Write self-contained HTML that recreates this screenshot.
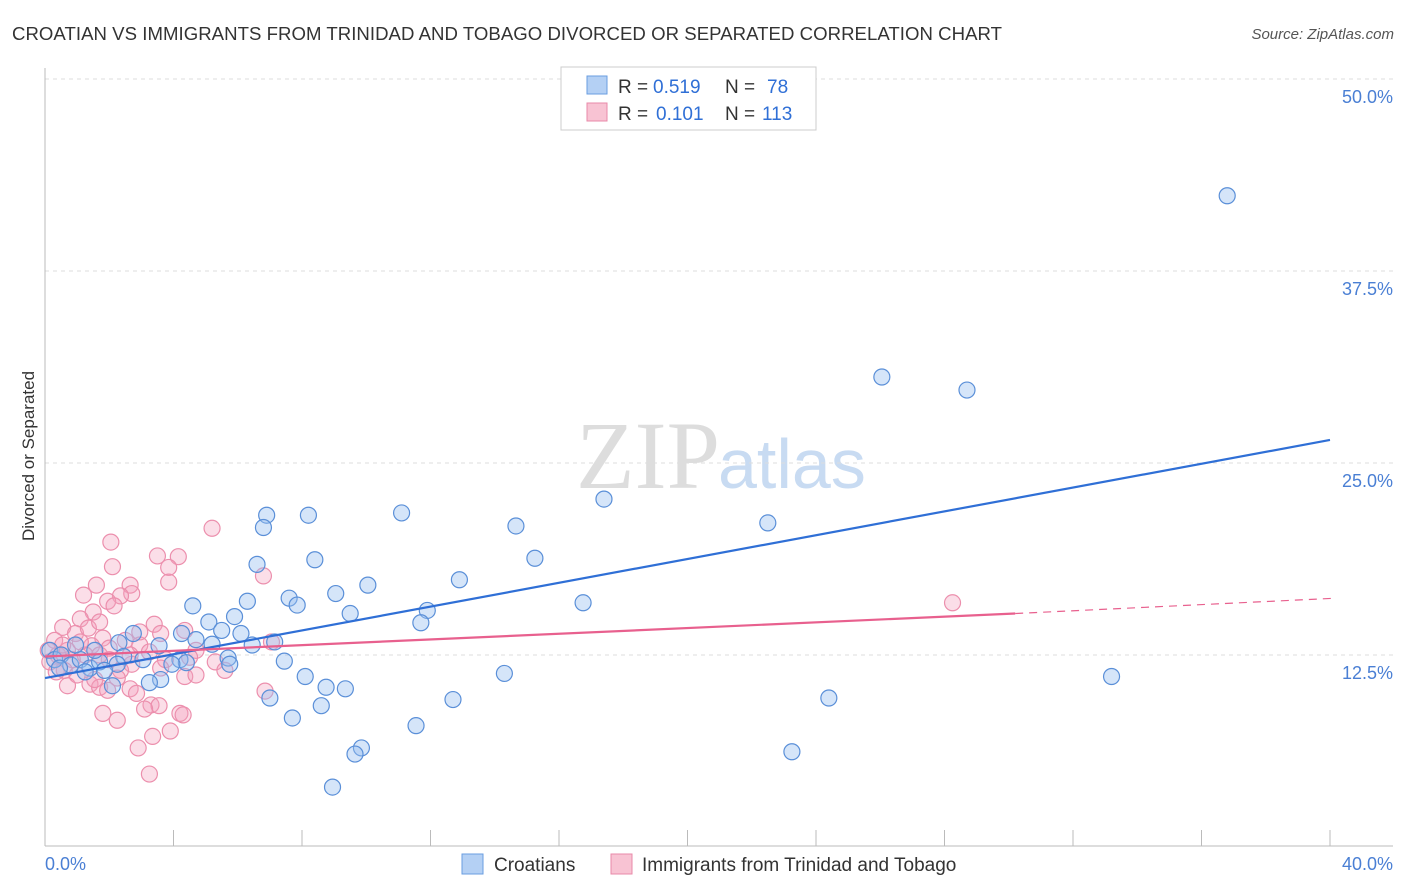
<!DOCTYPE html>
<html><head><meta charset="utf-8"><style>
body{margin:0;background:#fff;width:1406px;height:892px;overflow:hidden;font-family:"Liberation Sans",sans-serif}
svg{position:absolute;left:0;top:0}
</style></head><body>
<svg id="chart" width="1406" height="892">
<text x="12" y="40" font-size="18.6" fill="#333" textLength="990">CROATIAN VS IMMIGRANTS FROM TRINIDAD AND TOBAGO DIVORCED OR SEPARATED CORRELATION CHART</text>
<text x="1394" y="39" font-size="15" fill="#555" font-style="italic" text-anchor="end">Source: ZipAtlas.com</text>
<text x="34" y="456" font-size="17" fill="#333" text-anchor="middle" transform="rotate(-90 34 456)">Divorced or Separated</text>
<text x="720" y="488" font-size="96" fill="#ddd" text-anchor="end" font-family="Liberation Serif,serif">ZIP</text>
<text x="718" y="488" font-size="70" fill="#c8dbf2">atlas</text>
<g id="grid"></g><g id="axes"></g><g id="pts"></g><g id="lines"></g>
<g>
<rect x="561" y="67" width="255" height="63" fill="#fff" stroke="#ccc"/>
<rect x="587" y="76" width="20" height="18" fill="#b4d0f4" stroke="#6a9ee0"/>
<text x="618" y="93" font-size="19" fill="#333">R =</text>
<text x="653" y="93" font-size="19" fill="#2f6fd6">0.519</text>
<text x="725" y="93" font-size="19" fill="#333">N =</text>
<text x="767" y="93" font-size="19" fill="#2f6fd6">78</text>
<rect x="587" y="103" width="20" height="18" fill="#f8c3d3" stroke="#e88aa8"/>
<text x="618" y="120" font-size="19" fill="#333">R =</text>
<text x="656" y="120" font-size="19" fill="#2f6fd6">0.101</text>
<text x="725" y="120" font-size="19" fill="#333">N =</text>
<text x="762" y="120" font-size="19" fill="#2f6fd6">113</text>
</g>
<g>
<rect x="462" y="854" width="21" height="20" fill="#b4d0f4" stroke="#6a9ee0"/>
<text x="494" y="871" font-size="19" fill="#333">Croatians</text>
<rect x="611" y="854" width="21" height="20" fill="#f8c3d3" stroke="#e88aa8"/>
<text x="642" y="871" font-size="19" fill="#333">Immigrants from Trinidad and Tobago</text>
</g>
</svg>
<script>
const yTicks=[12.5,25,37.5,50];
const xTickLabels=["0.0%","40.0%"];
const blueX=[36.8,26.05,28.7,17.4,22.5,14.66,11.1,6.9,6.8,8.2,15.25,8.4,6.6,12.9,10.05,9.05,16.75,7.6,7.85,6.3,4.6,9.5,11.9,11.7,5.9,5.1,5.5,6.1,4.25,4.7,5.2,2.75,3.55,7.15,6.45,5.7,4.2,4.4,5.75,7.45,2.3,2.45,2.25,3.05,3.95,33.2,14.3,8.1,3.6,3.25,2.1,8.75,9.35,7.0,12.7,24.4,8.6,7.7,11.55,9.85,9.65,23.25,8.95,0.15,0.3,0.5,0.8,1.1,1.4,1.7,0.45,0.95,1.55,1.85,1.25];
const blueY=[42.4,30.6,29.75,22.65,21.1,20.9,21.75,21.6,20.8,21.6,18.8,18.7,18.4,17.4,17.05,16.5,15.9,16.2,15.75,16.0,15.7,15.2,15.4,14.6,15.0,14.65,14.1,13.9,13.9,13.5,13.2,13.9,13.1,13.35,13.15,12.3,12.2,12.0,11.9,12.1,13.3,12.4,11.9,12.2,11.9,11.1,11.3,11.1,10.9,10.7,10.5,10.4,10.3,9.7,9.6,9.7,9.2,8.4,7.9,6.45,6.05,6.2,3.9,12.8,12.2,12.5,11.85,12.2,11.65,12.05,11.65,13.15,12.8,11.5,11.4];
const pinkX=[5.2,2.05,3.5,4.15,3.85,2.1,6.8,3.85,2.65,1.6,2.7,1.2,2.35,1.95,2.15,28.25,1.5,1.1,3.4,4.35,3.6,0.55,0.95,1.8,2.5,2.95,7.05,1.45,4.7,3.25,3.75,4.5,5.3,2.7,2.0,0.3,0.1,0.4,0.7,0.85,1.25,1.7,0.15,0.55,1.1,2.35,3.6,4.35,5.6,4.7,2.25,0.7,1.4,1.7,2.65,6.85,1.95,2.85,3.3,3.55,3.1,1.8,4.2,4.3,2.25,3.9,3.35,2.9,3.25,0.6,1.0,1.55,0.35,2.0,2.65,2.95,1.35,1.7];
const pinkY=[20.75,19.85,18.95,18.9,18.2,18.25,17.65,17.25,17.05,17.05,16.5,16.4,16.35,16.0,15.7,15.9,15.3,14.85,14.5,14.1,13.9,14.3,13.9,13.6,13.45,13.15,13.35,13.1,12.8,12.7,12.2,12.35,12.05,11.9,12.2,13.45,12.8,12.5,12.8,12.2,12.5,12.5,12.05,13.15,13.35,11.5,11.65,11.1,11.5,11.2,11.0,10.5,10.6,10.4,10.3,10.15,10.2,10.0,9.25,9.2,8.98,8.7,8.7,8.6,8.25,7.55,7.2,6.45,4.75,11.5,11.2,10.9,11.4,12.95,12.5,14.0,14.25,14.65];
const blueTrend=[11.0,26.5];
const pinkTrend=[12.4,15.2,16.2];
const pinkSolidEnd=30.2;
const X=v=>45+v*32.125, Y=v=>847-v*15.36;
const NS="http://www.w3.org/2000/svg";
function mk(p,t,a){const e=document.createElementNS(NS,t);for(const k in a)e.setAttribute(k,a[k]);p.appendChild(e);return e;}
const grid=document.getElementById('grid'),axes=document.getElementById('axes'),pts=document.getElementById('pts'),lines=document.getElementById('lines');
yTicks.forEach(t=>{
 const l=mk(grid,'line',{x1:45,x2:1393,y1:Y(t),y2:Y(t),stroke:'#ddd','stroke-dasharray':'4,4'});
 
 
 const tx=mk(axes,'text',{x:1393,y:Y(t)+24,'font-size':18,fill:'#4a7fd4','text-anchor':'end'});
 tx.textContent=t.toFixed(1)+'%';
 
 
});
mk(axes,'line',{x1:45,x2:45,y1:68,y2:846,stroke:'#bbb'});
mk(axes,'line',{x1:45,x2:1393,y1:846,y2:846,stroke:'#bbb'});
for(let i=0;i<=10;i++){mk(axes,'line',{x1:X(i*4),x2:X(i*4),y1:830,y2:846,stroke:'#bbb'});}
const xl0=mk(axes,'text',{x:45,y:870,'font-size':18,fill:'#4a7fd4'});xl0.textContent=xTickLabels[0];


const xl1=mk(axes,'text',{x:1393,y:870,'font-size':18,fill:'#4a7fd4','text-anchor':'end'});xl1.textContent=xTickLabels[1];


pinkX.forEach((x,i)=>{const c=mk(pts,'circle',{cx:X(x),cy:Y(pinkY[i]),r:8,fill:'rgba(244,160,188,0.35)',stroke:'#ec8fad','stroke-width':1.2});
 
 });
blueX.forEach((x,i)=>{const c=mk(pts,'circle',{cx:X(x),cy:Y(blueY[i]),r:8,fill:'rgba(150,190,240,0.4)',stroke:'#5a8fd8','stroke-width':1.2});
 
 });
const bl=mk(lines,'line',{x1:X(0),y1:Y(blueTrend[0]),x2:X(40),y2:Y(blueTrend[1]),stroke:'#2f6fd6','stroke-width':2.2});


const pl=mk(lines,'line',{x1:X(0),y1:Y(pinkTrend[0]),x2:X(pinkSolidEnd),y2:Y(pinkTrend[1]),stroke:'#e8608e','stroke-width':2.2});


const pd=mk(lines,'line',{x1:X(pinkSolidEnd),y1:Y(pinkTrend[1]),x2:X(40.2),y2:Y(pinkTrend[2]),stroke:'#e8608e','stroke-width':1.2,'stroke-dasharray':'8,6'});


</script>
</body></html>
